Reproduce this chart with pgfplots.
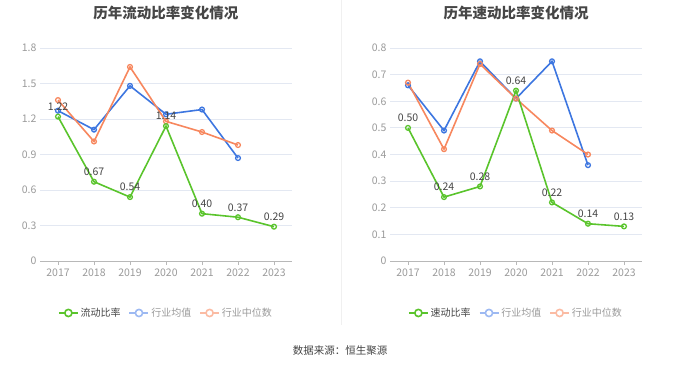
\documentclass[border=0pt]{standalone}
\usepackage{pgfplots}
\pgfplotsset{compat=1.18}
\usepackage{fontspec}
\setmainfont{Noto Sans CJK SC}
\definecolor{cgreen}{HTML}{5AC42C}
\definecolor{cblue}{HTML}{3D76E0}
\definecolor{corange}{HTML}{F7875E}
\definecolor{fblue}{HTML}{9DB9F2}
\definecolor{forange}{HTML}{FBBBA3}
\definecolor{gridc}{HTML}{E3E8F2}
\definecolor{tickc}{HTML}{9A9A9A}
\definecolor{axisc}{HTML}{B8B8B8}
\definecolor{titlec}{HTML}{464646}
\definecolor{labc}{HTML}{444444}
\pgfplotsset{
  base/.style={
    scale only axis, width=252pt, height=213pt,
    xmin=2016.5, xmax=2023.5, ymin=0,
    xtick={2017,2018,2019,2020,2021,2022,2023},
    xticklabels={2017,2018,2019,2020,2021,2022,2023},
    axis x line*=bottom, axis y line*=left,
    y axis line style={draw=none},
    x axis line style={axisc, line width=1pt},
    ytick style={draw=none},
    xtick style={axisc, line width=0.8pt},
    major tick length=4pt,
    xtick align=outside,
    tick label style={font=\fontsize{10.5}{12}\selectfont, text=tickc},
    /pgf/number format/assume math mode=true,
    ymajorgrids, grid style={gridc, line width=0.8pt},
    title style={font=\bfseries\fontsize{14.5}{16}\selectfont, text=titlec, yshift=19pt},
    legend columns=3,
    legend style={draw=none, fill=none, at={(0.5,-0.244)}, anchor=center,
      font=\fontsize{10}{12}\selectfont, /tikz/every even column/.append style={column sep=6pt}},
    legend image code/.code={\draw[#1,mark=none] (0pt,0pt) -- (19pt,0pt); \draw[#1,mark=none,fill=white] (9.5pt,0pt) circle (3.6pt);},
    every axis plot/.append style={line width=1.6pt, mark=o, mark size=2.4pt, mark options={fill=white, line width=1.3pt}},
  },
  lab/.style={nodes near coords, point meta=explicit symbolic,
    every node near coord/.append style={font=\fontsize{10.5}{12}\selectfont, text=labc, anchor=south, yshift=2pt}},
}
\begin{document}
\begin{tikzpicture}
\path[use as bounding box] (0,0) rectangle (680pt,367pt);
\draw[color=black!6, line width=0.8pt] (341.5pt,367pt) -- (341.5pt,42pt);
\begin{axis}[base, at={(40pt,106pt)}, anchor=south west, ymax=1.8,
  ytick={0,0.3,0.6,0.9,1.2,1.5,1.8}, yticklabels={0,0.3,0.6,0.9,1.2,1.5,1.8},
  title={历年流动比率变化情况}]
\addplot[cblue, forget plot] coordinates {(2017,1.27) (2018,1.11) (2019,1.48) (2020,1.24) (2021,1.28) (2022,0.87)};
\addplot[corange, forget plot] coordinates {(2017,1.36) (2018,1.01) (2019,1.64) (2020,1.18) (2021,1.09) (2022,0.98)};
\addplot[cgreen, lab] coordinates {(2017,1.22)[1.22] (2018,0.67)[0.67] (2019,0.54)[0.54] (2020,1.14)[1.14] (2021,0.40)[0.40] (2022,0.37)[0.37] (2023,0.29)[0.29]};
\addlegendentry{\textcolor{labc}{流动比率}}
\addlegendimage{fblue, line width=1.6pt}
\addlegendentry{\textcolor{tickc}{行业均值}}
\addlegendimage{forange, line width=1.6pt}
\addlegendentry{\textcolor{tickc}{行业中位数}}
\end{axis}
\begin{axis}[base, at={(390pt,106pt)}, anchor=south west, ymax=0.8,
  ytick={0,0.1,0.2,0.3,0.4,0.5,0.6,0.7,0.8}, yticklabels={0,0.1,0.2,0.3,0.4,0.5,0.6,0.7,0.8},
  title={历年速动比率变化情况}]
\addplot[cblue, forget plot] coordinates {(2017,0.66) (2018,0.49) (2019,0.75) (2020,0.61) (2021,0.75) (2022,0.36)};
\addplot[corange, forget plot] coordinates {(2017,0.67) (2018,0.42) (2019,0.74) (2020,0.61) (2021,0.49) (2022,0.40)};
\addplot[cgreen, lab] coordinates {(2017,0.50)[0.50] (2018,0.24)[0.24] (2019,0.28)[0.28] (2020,0.64)[0.64] (2021,0.22)[0.22] (2022,0.14)[0.14] (2023,0.13)[0.13]};
\addlegendentry{\textcolor{labc}{速动比率}}
\addlegendimage{fblue, line width=1.6pt}
\addlegendentry{\textcolor{tickc}{行业均值}}
\addlegendimage{forange, line width=1.6pt}
\addlegendentry{\textcolor{tickc}{行业中位数}}
\end{axis}
\node[font=\fontsize{10.5}{12}\selectfont, text=labc] at (340pt,16pt) {数据来源：恒生聚源};
\end{tikzpicture}
\end{document}
